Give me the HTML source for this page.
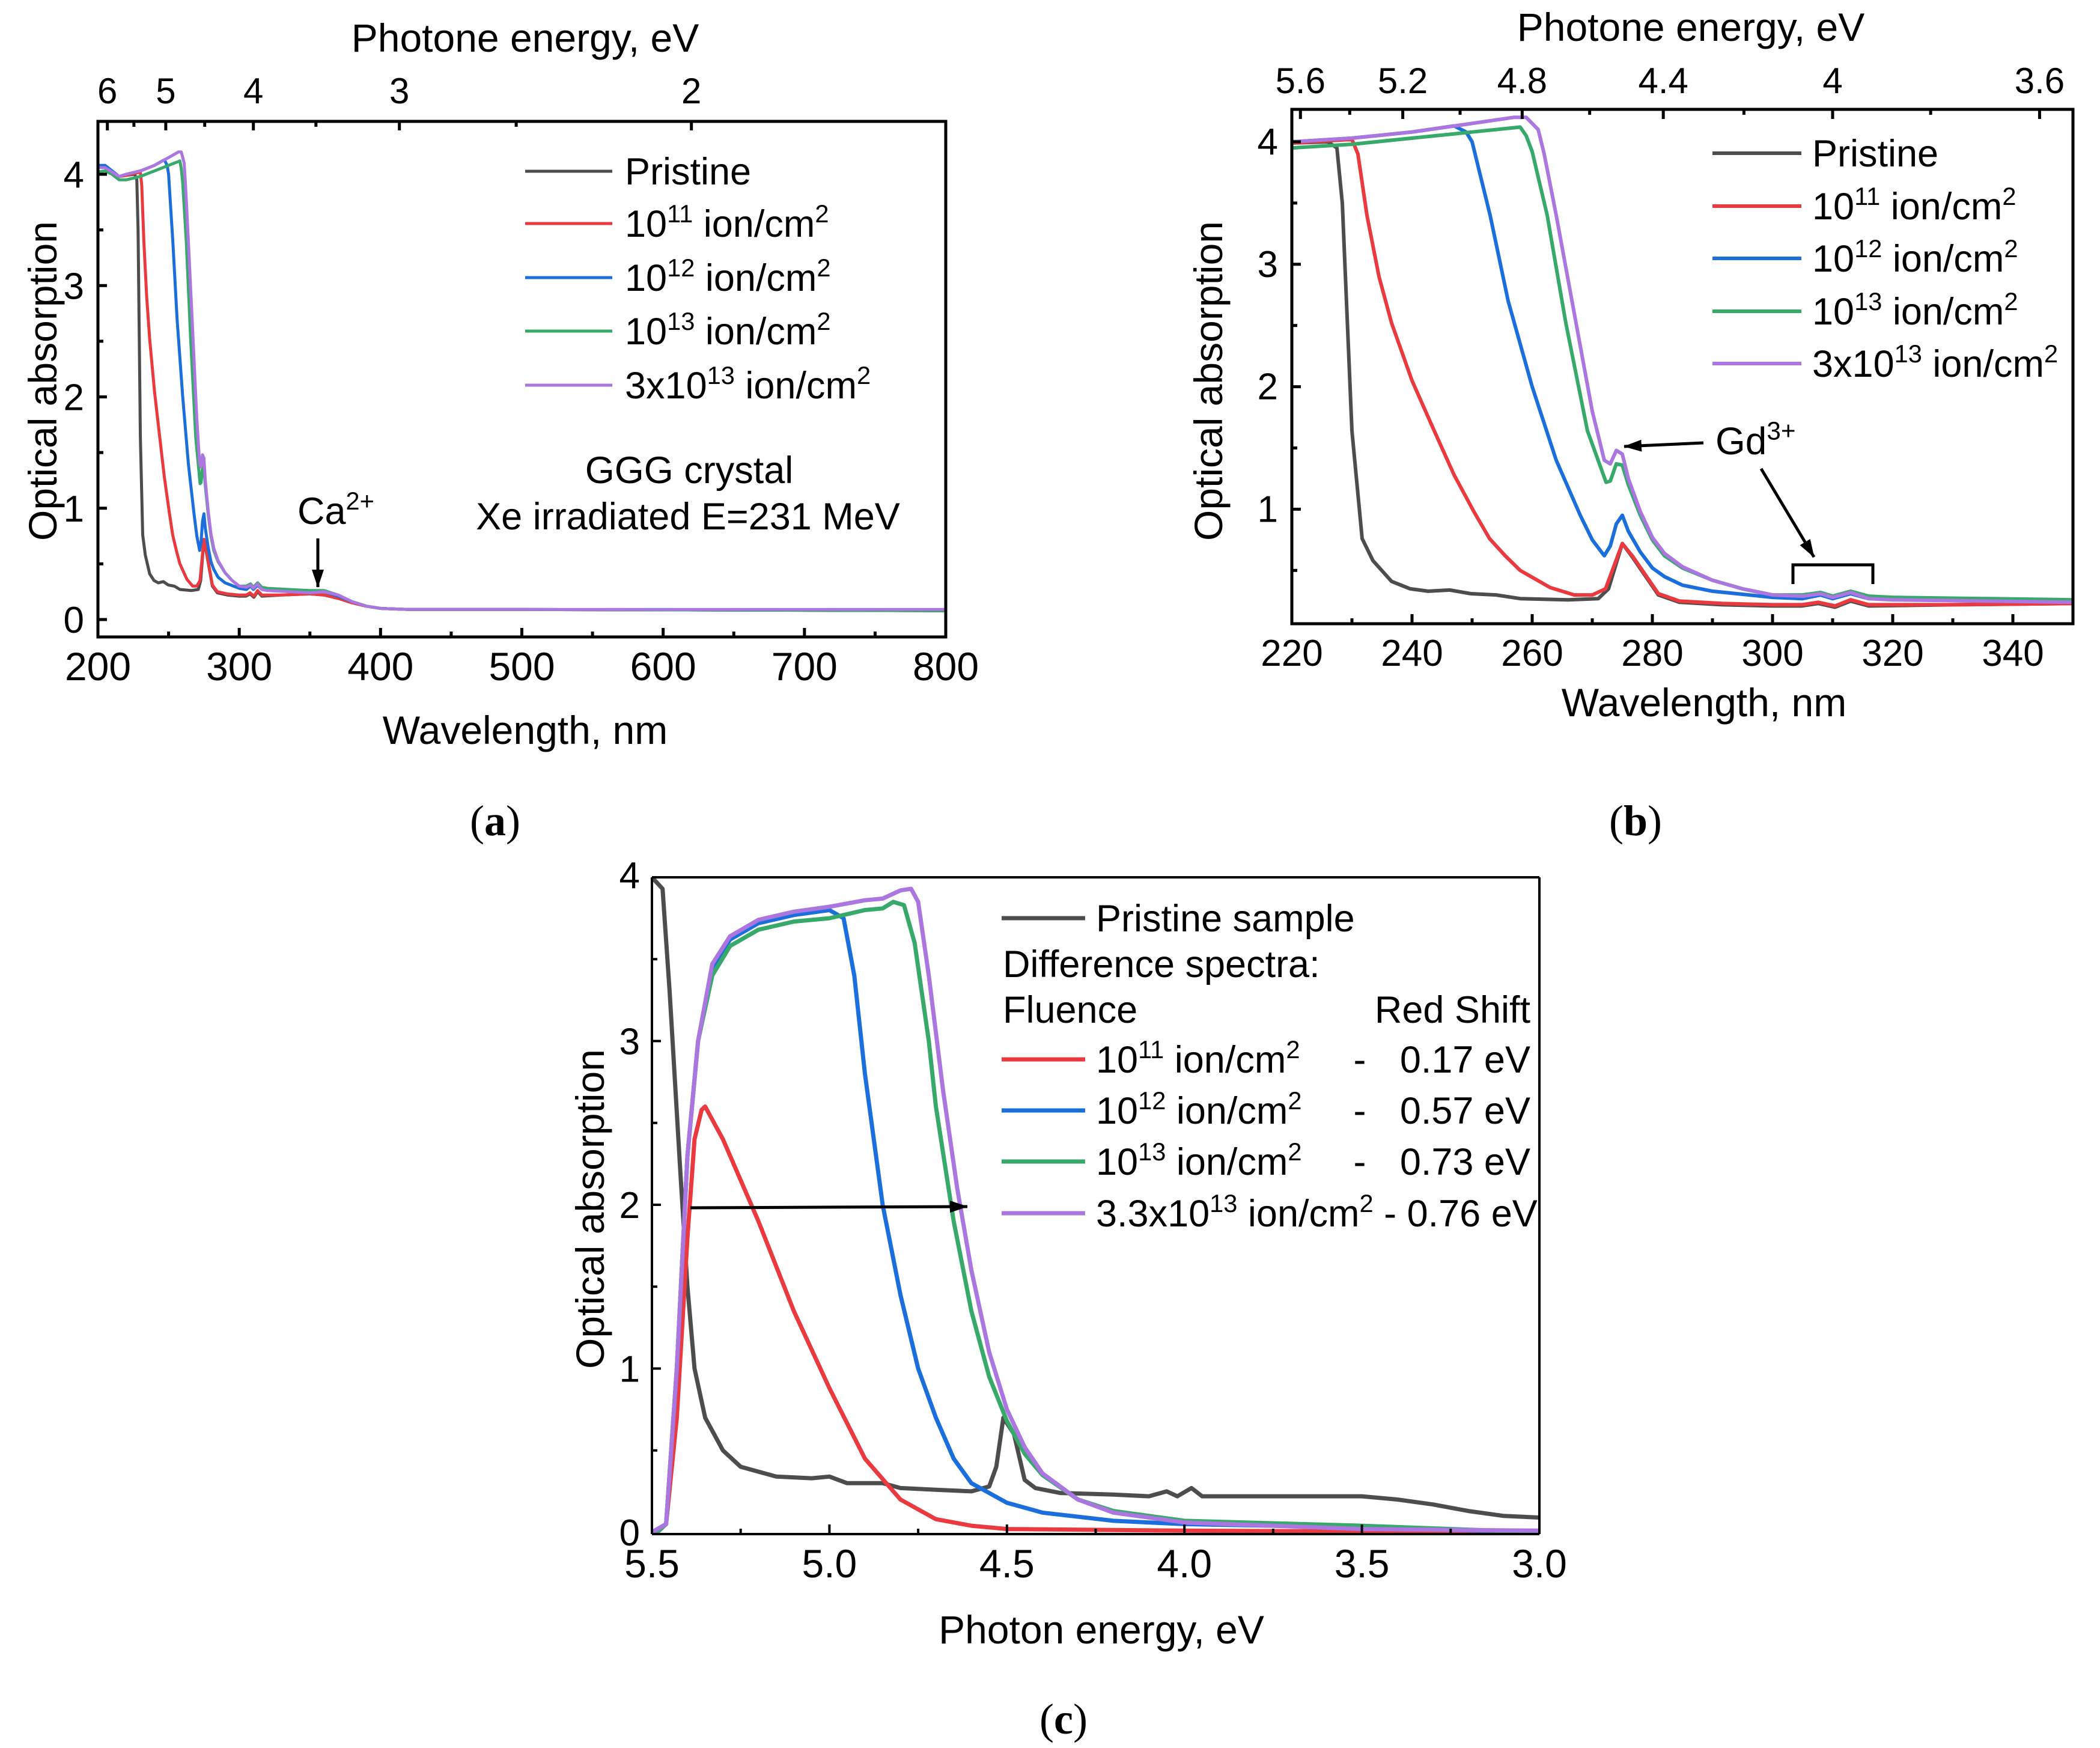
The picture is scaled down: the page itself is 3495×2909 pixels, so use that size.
<!DOCTYPE html>
<html><head><meta charset="utf-8"><style>
html,body{margin:0;padding:0;background:#fff}
svg{display:block}
text{font-family:"Liberation Sans",sans-serif;fill:#000}
.serif{font-family:"Liberation Serif",serif}
</style></head><body>
<svg id="fig" xmlns="http://www.w3.org/2000/svg" width="3495" height="2909" viewBox="0 0 3495 2909">
<defs>
<marker id="ah" markerWidth="30" markerHeight="20" refX="29" refY="10" orient="auto" markerUnits="userSpaceOnUse" viewBox="0 0 30 20"><path d="M0,0 L30,10 L0,20 z" fill="#000"/></marker>
</defs>
</svg>
<script>
// ---------- data: wavelength spectra (nm, absorbance) ----------
const wlPristine = [200,205,210,215,220,226,227.5,228.4,230,231.7,233.5,236.6,239.7,242.7,246.3,249.8,254,258,266,271,272.7,275,276.8,278.9,281,284.5,291.6,299.7,304.8,307.6,310.4,313,316,330,350,360,370,380,390,400,420,500,800];
const abPristine = [4.07,4.07,4.02,3.98,3.99,4.0,3.95,3.5,1.64,0.76,0.58,0.41,0.35,0.33,0.34,0.31,0.30,0.27,0.26,0.27,0.35,0.72,0.60,0.45,0.30,0.24,0.22,0.21,0.21,0.23,0.20,0.25,0.21,0.22,0.23,0.22,0.19,0.15,0.12,0.10,0.09,0.09,0.08];
const wlF11 = [200,205,210,215,220,230,231,232.5,234.5,236.6,240,243.7,247,250.3,252.9,255.5,258,263,267,270,272.2,275,276.8,278.9,281,284.5,291.6,300,305,307.6,310.4,313,316,330,350,360,370,380,390,400,420,500,800];
const abF11 = [4.07,4.08,4.02,3.98,3.99,4.02,3.9,3.4,2.9,2.52,2.05,1.64,1.28,0.98,0.76,0.62,0.50,0.36,0.30,0.30,0.35,0.72,0.61,0.46,0.31,0.25,0.23,0.22,0.22,0.24,0.21,0.26,0.22,0.22,0.23,0.22,0.19,0.15,0.12,0.10,0.09,0.09,0.08];
const wlF12 = [200,205,210,215,220,230,240,247,249,250,251,253,256,260,264,268,270,272,273,274,275,276,278,280,282,285,290,300,305,308,310,313,316,320,350,360,370,380,390,400,420,500,800];
const abF12 = [4.08,4.08,4.03,3.98,4.0,4.03,4.08,4.13,4.08,4.0,3.8,3.4,2.7,2.0,1.4,0.95,0.75,0.62,0.70,0.88,0.95,0.82,0.65,0.52,0.45,0.38,0.33,0.28,0.27,0.30,0.27,0.31,0.27,0.27,0.25,0.25,0.21,0.16,0.12,0.10,0.09,0.09,0.08];
const wlF13 = [200,205,210,215,220,230,240,250,258,259,260,262.5,265.6,269.2,272.3,273,274,275,276,278,280,282,285,290,295,300,305,308,310,313,316,320,350,360,370,380,390,400,420,500,800];
const abF13 = [4.02,4.03,4.0,3.95,3.95,3.98,4.03,4.08,4.12,4.05,3.92,3.4,2.52,1.64,1.22,1.23,1.37,1.36,1.2,0.95,0.75,0.62,0.52,0.42,0.35,0.30,0.30,0.32,0.29,0.33,0.29,0.28,0.26,0.26,0.22,0.16,0.12,0.10,0.09,0.09,0.08];
const wlF3x13 = [200,205,210,215,220,230,240,250,257,259,261,262,264,267,270,272,273,274,275,276,278,280,282,285,290,295,300,305,308,310,313,316,320,350,360,370,380,390,400,420,500,800];
const abF3x13 = [4.06,4.06,4.02,3.98,4.0,4.03,4.08,4.15,4.2,4.2,4.1,3.9,3.4,2.6,1.8,1.4,1.37,1.48,1.45,1.25,0.98,0.77,0.64,0.53,0.42,0.35,0.30,0.29,0.31,0.28,0.32,0.27,0.26,0.24,0.25,0.22,0.16,0.12,0.10,0.09,0.09,0.09];

// ---------- data: panel (c) photon energy spectra (eV, absorbance) ----------
const eP = [5.5,5.47,5.45,5.42,5.4,5.38,5.35,5.3,5.25,5.15,5.05,5.0,4.95,4.85,4.8,4.7,4.6,4.55,4.53,4.51,4.48,4.45,4.42,4.35,4.2,4.1,4.05,4.02,3.98,3.95,3.8,3.5,3.4,3.3,3.2,3.1,3.0];
const aP = [4.0,3.93,3.3,2.2,1.5,1.0,0.7,0.5,0.4,0.34,0.33,0.34,0.30,0.30,0.27,0.26,0.25,0.28,0.4,0.7,0.6,0.32,0.27,0.24,0.23,0.22,0.25,0.22,0.27,0.22,0.22,0.22,0.20,0.17,0.13,0.10,0.09];
const eR = [5.5,5.46,5.43,5.4,5.38,5.36,5.35,5.3,5.2,5.1,5.0,4.9,4.8,4.7,4.6,4.5,4.0,3.0];
const aR = [0,0.05,0.7,1.8,2.4,2.58,2.6,2.4,1.9,1.35,0.88,0.45,0.2,0.08,0.04,0.02,0.01,0];
const eB = [5.5,5.46,5.43,5.4,5.37,5.33,5.28,5.2,5.1,5.0,4.96,4.93,4.9,4.85,4.8,4.75,4.7,4.65,4.6,4.5,4.4,4.2,4.0,3.5,3.0];
const aB = [0,0.05,1.0,2.3,3.0,3.45,3.62,3.72,3.77,3.8,3.75,3.4,2.8,2.0,1.45,1.0,0.7,0.45,0.3,0.18,0.12,0.07,0.05,0.03,0];
const eG = [5.5,5.46,5.43,5.4,5.37,5.33,5.28,5.2,5.1,5.0,4.9,4.85,4.82,4.79,4.76,4.72,4.7,4.65,4.6,4.55,4.5,4.45,4.4,4.3,4.2,4.0,3.5,3.0];
const aG = [-0.03,0.05,1.0,2.3,3.0,3.4,3.58,3.68,3.73,3.75,3.8,3.81,3.85,3.83,3.6,3.0,2.6,1.9,1.35,0.95,0.68,0.48,0.35,0.2,0.13,0.07,0.04,0];
const eV3 = [5.5,5.46,5.43,5.4,5.37,5.33,5.28,5.2,5.1,5.0,4.9,4.85,4.8,4.77,4.75,4.72,4.68,4.64,4.6,4.55,4.5,4.45,4.4,4.3,4.2,4.0,3.5,3.0];
const aV3 = [0,0.05,1.0,2.3,3.0,3.47,3.64,3.74,3.79,3.82,3.86,3.87,3.92,3.93,3.85,3.4,2.7,2.1,1.6,1.1,0.75,0.52,0.36,0.2,0.12,0.06,0.02,0.01];

// ---------- tick labels ----------
const aXTicks = [200,300,400,500,600,700,800];
const aYTicks = [0,1,2,3,4];
const aETicks = [6,5,4,3,2];
const aEMinor = [5.5,4.5,3.5,2.5];
const bXTicks = [220,240,260,280,300,320,340];
const bYTicks = [1,2,3,4];
const bETicks = ["5.6","5.2","4.8","4.4","4","3.6"];
const bEMinor = [5.4,5.0,4.6,4.2,3.8];
const cXTicks = ["5.5","5.0","4.5","4.0","3.5","3.0"];
const cYTicks = [0,1,2,3,4];

const COL = {p:'#4d4d4d', r:'#ea3a3f', b:'#1a6fdc', g:'#37a96b', v:'#ab76df'};
const NS = 'http://www.w3.org/2000/svg';
const svg = document.getElementById('fig');

function mk(tag, attrs, parent) {
  const e = document.createElementNS(NS, tag);
  for (const k in attrs) e.setAttribute(k, attrs[k]);
  (parent || svg).appendChild(e);
  return e;
}
function ln(x1,y1,x2,y2,w,g){ return mk('line',{x1:x1,y1:y1,x2:x2,y2:y2,stroke:'#000','stroke-width':w||5},g); }
function tx(x,y,s,size,anchor,g){ const t=mk('text',{x:x,y:y,'font-size':size,'text-anchor':anchor||'start'},g); t.textContent=s; return t; }
function supText(x,y,parts,size,anchor,g){
  const t=mk('text',{x:x,y:y,'font-size':size,'text-anchor':anchor||'start'},g);
  let up=false;
  parts.forEach(p=>{
    const sp=document.createElementNS(NS,'tspan');
    if(p[1]&&!up){sp.setAttribute('dy',-size*0.38);sp.setAttribute('font-size',size*0.66);up=true;}
    else if(p[1]){sp.setAttribute('font-size',size*0.66);}
    else if(up){sp.setAttribute('dy',size*0.38);up=false;}
    sp.textContent=p[0]; t.appendChild(sp);
  });
  return t;
}
function drawSeries(xs, ys, fx, fy, color, w, g, name){
  let d='';
  for(let i=0;i<xs.length;i++){ d += (i?'L':'M') + fx(xs[i]).toFixed(1) + ',' + fy(ys[i]).toFixed(1); }
  const p = mk('path',{d:d,fill:'none',stroke:color,'stroke-width':w,'stroke-linejoin':'round'},g);
  
  
  return p;
}
function clip(id,x,y,w,h){ const c=mk('clipPath',{id:id},svg.querySelector('defs')); mk('rect',{x:x,y:y,width:w,height:h},c); }

/* ================= PANEL A ================= */
const A = {L:163,R:1574,T:202,B:1060};
const ax = v => A.L + (v-200)*(A.R-A.L)/600;
const ay = v => 1031 - v*185.25;
const gA = mk('g',{}); 


clip('clipA',A.L,A.T,A.R-A.L,A.B-A.T);
const dA = mk('g',{'clip-path':'url(#clipA)'},gA);
drawSeries(wlPristine,abPristine,ax,ay,COL.p,5,dA,'a-series-pristine');
drawSeries(wlF11,abF11,ax,ay,COL.r,5,dA,'a-series-1e11');
drawSeries(wlF12,abF12,ax,ay,COL.b,5,dA,'a-series-1e12');
drawSeries(wlF13,abF13,ax,ay,COL.g,5,dA,'a-series-1e13');
drawSeries(wlF3x13,abF3x13,ax,ay,COL.v,5,dA,'a-series-3e13');
mk('rect',{x:A.L,y:A.T,width:A.R-A.L,height:A.B-A.T,fill:'none',stroke:'#000','stroke-width':5},gA);
for(let v=200; v<=800; v+=50){ const x=ax(v); ln(x,A.B,x,A.B-(v%100===0?15:9),5,gA); }
aXTicks.forEach(v=>{ const t=tx(ax(v),1132,String(v),66,'middle',gA);   });
for(let v=0; v<=4; v+=0.5){ const y=ay(v); ln(A.L,y,A.L+(Number.isInteger(v)?15:9),y,5,gA); }
aYTicks.forEach(v=>{ const t=tx(140,ay(v)+22,String(v),62,'end',gA);   });
aETicks.forEach(e=>{ const x=ax(1240/e); ln(x,A.T,x,A.T+15,5,gA); const t=tx(x,172,String(e),60,'middle',gA);   });
aEMinor.forEach(e=>{ const x=ax(1240/e); ln(x,A.T,x,A.T+9,5,gA); });
let t;
t=tx(874,86,'Photone energy, eV',66,'middle',gA);  
t=tx(874,1238,'Wavelength, nm',66,'middle',gA);  
t=tx(0,0,'Optical absorption',66,'middle',gA); t.setAttribute('transform','translate(94,634) rotate(-90)');  
const legA=[['Pristine',COL.p,285,[['Pristine',0]]],['1e11',COL.r,372,[['10',0],['11',1],[' ion/cm',0],['2',1]]],['1e12',COL.b,462,[['10',0],['12',1],[' ion/cm',0],['2',1]]],['1e13',COL.g,551,[['10',0],['13',1],[' ion/cm',0],['2',1]]],['3e13',COL.v,641,[['3x10',0],['13',1],[' ion/cm',0],['2',1]]]];
legA.forEach(r=>{ const l=ln(874,r[2],1019,r[2],5,gA); l.setAttribute('stroke',r[1]); const s=supText(1040,r[2]+22,r[3],63,'start',gA);   });
t=tx(1147,804,'GGG crystal',63,'middle',gA);  
t=tx(1145,881,'Xe irradiated E=231 MeV',63,'middle',gA);  
t=supText(495,872,[['Ca',0],['2+',1]],63,'start',gA);  
t=ln(529,896,529,977,5,gA); t.setAttribute('marker-end','url(#ah)');  
t=mk('text',{x:824,y:1390,'font-size':72,'text-anchor':'middle','class':'serif'},gA); t.innerHTML='(<tspan font-weight="bold">a</tspan>)';  

/* ================= PANEL B ================= */
const B = {L:2150,R:3450,T:182,B:1038};
const bx = v => B.L + (v-220)*10;
const by = v => 236 + (4-v)*203.8;
const gB = mk('g',{});


clip('clipB',B.L,B.T,B.R-B.L,B.B-B.T);
const dB = mk('g',{'clip-path':'url(#clipB)'},gB);
drawSeries(wlPristine,abPristine,bx,by,COL.p,6,dB,'b-series-pristine');
drawSeries(wlF11,abF11,bx,by,COL.r,6,dB,'b-series-1e11');
drawSeries(wlF12,abF12,bx,by,COL.b,6,dB,'b-series-1e12');
drawSeries(wlF13,abF13,bx,by,COL.g,6,dB,'b-series-1e13');
drawSeries(wlF3x13,abF3x13,bx,by,COL.v,6,dB,'b-series-3e13');
mk('rect',{x:B.L,y:B.T,width:B.R-B.L,height:B.B-B.T,fill:'none',stroke:'#000','stroke-width':5},gB);
for(let v=220; v<=350; v+=10){ const x=bx(v); ln(x,B.B,x,B.B-(v%20===0?16:9),5,gB); }
bXTicks.forEach(v=>{ const t=tx(bx(v),1108,String(v),62,'middle',gB);   });
for(let v=0.5; v<=4; v+=0.5){ const y=by(v); if(y<B.B) ln(B.L,y,B.L+(Number.isInteger(v)?15:9),y,5,gB); }
bYTicks.forEach(v=>{ const t=tx(2127,by(v)+21,String(v),62,'end',gB);   });
bETicks.forEach(s=>{ const x=bx(1240/parseFloat(s)); ln(x,B.T,x,B.T+16,5,gB); const t=tx(x,155,s,60,'middle',gB);   });
bEMinor.forEach(e=>{ const x=bx(1240/e); ln(x,B.T,x,B.T+9,5,gB); });
t=tx(2814,68,'Photone energy, eV',66,'middle',gB);  
t=tx(2836,1192,'Wavelength, nm',66,'middle',gB);  
t=tx(0,0,'Optical absorption',66,'middle',gB); t.setAttribute('transform','translate(2034,634) rotate(-90)');  
const legB=[['Pristine',COL.p,255,[['Pristine',0]]],['1e11',COL.r,343,[['10',0],['11',1],[' ion/cm',0],['2',1]]],['1e12',COL.b,430,[['10',0],['12',1],[' ion/cm',0],['2',1]]],['1e13',COL.g,518,[['10',0],['13',1],[' ion/cm',0],['2',1]]],['3e13',COL.v,605,[['3x10',0],['13',1],[' ion/cm',0],['2',1]]]];
legB.forEach(r=>{ const l=ln(2850,r[2],2998,r[2],6,gB); l.setAttribute('stroke',r[1]); const s=supText(3016,r[2]+22,r[3],63,'start',gB);   });
t=supText(2855,756,[['Gd',0],['3+',1]],64,'start',gB);  
t=ln(2835,737,2703,743,5,gB); t.setAttribute('marker-end','url(#ah)');  
t=ln(2931,780,3019,927,5,gB); t.setAttribute('marker-end','url(#ah)');  
t=mk('path',{d:'M2984,972 V940 H3117 V972',fill:'none',stroke:'#000','stroke-width':5},gB);  
t=mk('text',{x:2722,y:1390,'font-size':72,'text-anchor':'middle','class':'serif'},gB); t.innerHTML='(<tspan font-weight="bold">b</tspan>)';  

/* ================= PANEL C ================= */
const C = {L:1085,R:2562,T:1460,B:2553};
const cx = v => C.L + (5.5-v)*(C.R-C.L)/2.5;
const cy = v => 2550 - v*272.5;
const gC = mk('g',{});


clip('clipC',C.L-15,C.T-15,C.R-C.L+15,C.B-C.T+15);
const dC = mk('g',{'clip-path':'url(#clipC)'},gC);
drawSeries(eP,aP,cx,cy,COL.p,7,dC,'c-series-pristine');
drawSeries(eR,aR,cx,cy,COL.r,7,dC,'c-series-1e11');
drawSeries(eB,aB,cx,cy,COL.b,7,dC,'c-series-1e12');
drawSeries(eG,aG,cx,cy,COL.g,7,dC,'c-series-1e13');
drawSeries(eV3,aV3,cx,cy,COL.v,7,dC,'c-series-3e13');
ln(C.L,C.T,C.R,C.T,4,gC); ln(C.R,C.T,C.R,C.B,4,gC); ln(C.L,C.B,C.R,C.B,4,gC); ln(C.L,C.T,C.L,C.B,4,gC);
for(let i=0;i<=10;i++){ const v=5.5-i*0.25; const x=cx(v); ln(x,C.B,x,C.B-(i%2===0?16:9),4,gC); }
cXTicks.forEach(s=>{ const t=tx(cx(parseFloat(s)),2625,s,66,'middle',gC);   });
for(let v=0.5; v<4; v+=0.5){ const y=cy(v); ln(C.L,y,C.L+(Number.isInteger(v)?15:9),y,4,gC); }
cYTicks.forEach(v=>{ const t=tx(1065,cy(v)+(v===4?18:22),String(v),62,'end',gC);   });
t=tx(1833,2735,'Photon energy, eV',66,'middle',gC);  
t=tx(0,0,'Optical absorption',66,'middle',gC); t.setAttribute('transform','translate(1005,2012) rotate(-90)');  
let l=ln(1667,1528,1806,1528,7,gC); l.setAttribute('stroke',COL.p);
t=tx(1824,1550,'Pristine sample',63,'start',gC);  
t=tx(1669,1626,'Difference spectra:',63,'start',gC);  
t=tx(1669,1702,'Fluence',63,'start',gC);  
t=tx(2547,1702,'Red Shift',63,'end',gC);  
const legC=[[COL.r,1763,'11','0.17 eV'],[COL.b,1848,'12','0.57 eV'],[COL.g,1933,'13','0.73 eV']];
legC.forEach(r=>{ const l=ln(1667,r[1],1806,r[1],7,gC); l.setAttribute('stroke',r[0]); const s=supText(1824,r[1]+22,[['10',0],[r[2],1],[' ion/cm',0],['2',1]],63,'start',gC);   const d=tx(2263,r[1]+22,'-',63,'middle',gC); const v=tx(2547,r[1]+22,r[3],63,'end',gC);   });
l=ln(1667,2019,1806,2019,7,gC); l.setAttribute('stroke',COL.v);
t=supText(1824,2041,[['3.3x10',0],['13',1],[' ion/cm',0],['2',1],[' - 0.76 eV',0]],63,'start',gC);  
t=ln(1149,2010,1610,2008,5,gC); t.setAttribute('marker-end','url(#ah)');  
t=mk('text',{x:1770,y:2885,'font-size':72,'text-anchor':'middle','class':'serif'},gC); t.innerHTML='(<tspan font-weight="bold">c</tspan>)';  
</script>
</body></html>
